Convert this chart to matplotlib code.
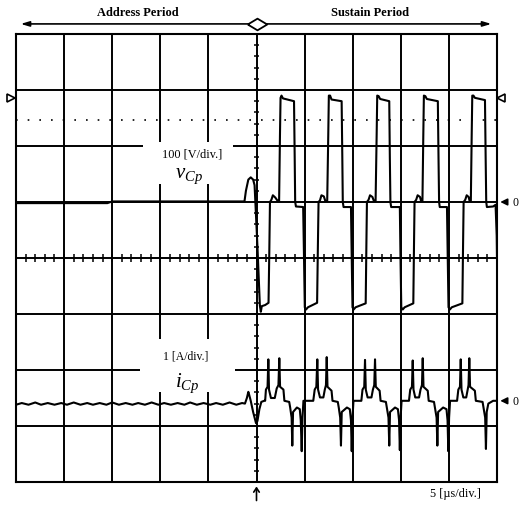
import numpy as np
import matplotlib
matplotlib.use("Agg")
import matplotlib.pyplot as plt
from matplotlib.patches import Rectangle

plt.rcParams['font.family'] = ['Liberation Serif', 'DejaVu Serif']
plt.rcParams['mathtext.fontset'] = 'custom'
plt.rcParams['mathtext.it'] = 'Liberation Serif:italic'
plt.rcParams['mathtext.rm'] = 'Liberation Serif'

# ---------------- data (time in us) ----------------
vcp_t = [-25.0, -15.5, -15.0, -1.25,
         -1.1, -0.85, -0.6, -0.35, -0.2,
         0.1, 0.35, 0.45, 0.55, 0.9, 1.25,
         1.33, 1.4, 1.55, 1.7, 1.95, 2.2, 2.35,
         2.44, 2.5, 2.6, 2.75, 3.9,
         3.97, 4.02, 4.1, 4.85,
         4.94, 5.02, 5.15, 5.35, 6.3,
         6.38, 6.45, 6.6, 6.75, 7.0, 7.15, 7.35,
         7.46, 7.52, 7.65, 7.8, 8.85,
         8.92, 8.97, 9.05, 9.82,
         9.9, 9.98, 10.1, 10.3, 11.35,
         11.42, 11.48, 11.65, 11.8, 12.05, 12.2, 12.38,
         12.49, 12.55, 12.7, 12.85, 13.8,
         13.86, 13.92, 14.0, 14.9,
         14.97, 15.05, 15.2, 15.4, 16.3,
         16.37, 16.43, 16.6, 16.75, 17.0, 17.1, 17.25,
         17.34, 17.4, 17.55, 17.7, 18.85,
         18.92, 18.98, 19.05, 19.8,
         19.88, 19.96, 20.1, 20.3, 21.4,
         21.47, 21.53, 21.7, 21.85, 22.05, 22.15, 22.28,
         22.37, 22.43, 22.55, 22.7, 23.75,
         23.82, 23.88, 23.95, 24.6, 24.85,
         24.97, 25.0]
vcp_v = [-2, -2, 1, 1,
         20, 40, 44, 40, 30,
         -80, -185, -196, -186, -184, -180,
         -90, 0, 4, 12, 8, 2, 2,
         120, 186, 190, 185, 180,
         80, 0, -8, -9,
         -100, -188, -192, -188, -180,
         -80, 0, 3, 12, 10, 2, 2,
         120, 190, 190, 183, 180,
         80, 0, -9, -9,
         -100, -188, -192, -188, -181,
         -80, 0, 4, 12, 9, 2, 2,
         120, 190, 189, 184, 180,
         80, 0, -9, -9,
         -100, -188, -192, -188, -181,
         -80, 0, 4, 12, 9, 2, 2,
         120, 190, 189, 184, 180,
         80, 0, -9, -9,
         -100, -188, -192, -188, -181,
         -80, 0, 4, 12, 9, 2, 2,
         120, 190, 190, 186, 182,
         80, 0, -9, -8, -5,
         -60, -100]

icp_t = [-25.0, -24.4, -23.7, -23.0, -22.4, -21.7, -21.0, -20.3, -19.7, -19.0,
         -18.3, -17.6, -17.0, -16.3, -15.6, -15.0, -14.3, -13.6, -12.9, -12.3,
         -11.6, -10.9, -10.2, -9.6, -8.9, -8.2, -7.5, -6.9, -6.2, -5.5,
         -4.8, -4.2, -3.5, -2.8, -2.1, -1.5,
         -1.2, -1.0, -0.85, -0.75, -0.6, -0.35, -0.05, 0.1, 0.3, 0.5, 0.8,
         0.9, 0.98, 1.15, 1.23, 1.3, 1.5, 1.9, 2.1, 2.28, 2.37, 2.45, 2.8, 2.9, 3.4,
         3.5, 3.65, 3.72, 3.8, 4.2, 4.5, 4.6, 4.7, 4.78, 4.88,
         5.9, 6.05, 6.22, 6.32, 6.4, 6.6, 6.95, 7.1, 7.22, 7.3, 7.38, 7.8, 7.9,
         8.45, 8.55, 8.7, 8.78, 8.86, 9.4, 9.7, 9.82, 9.9, 9.98, 10.08,
         10.9, 11.02, 11.2, 11.28, 11.36, 11.55, 11.95, 12.1, 12.24, 12.32, 12.4, 12.8, 12.9,
         13.45, 13.55, 13.72, 13.8, 13.88, 14.4, 14.7, 14.82, 14.9, 14.98, 15.08,
         15.85, 15.98, 16.16, 16.24, 16.32, 16.5, 16.9, 17.05, 17.2, 17.28, 17.36, 17.8, 17.9,
         18.45, 18.55, 18.72, 18.8, 18.88, 19.4, 19.75, 19.86, 19.94, 20.02, 20.12,
         20.85, 20.98, 21.15, 21.23, 21.31, 21.5, 21.8, 21.95, 22.04, 22.12, 22.2, 22.7, 22.8,
         23.5, 23.6, 23.77, 23.85, 23.93, 24.1, 24.6, 25.0]
icp_a = [-0.07, -0.04, -0.07, -0.03, -0.07, -0.04, -0.07, -0.04, -0.07, -0.03,
         -0.07, -0.04, -0.07, -0.04, -0.07, -0.03, -0.07, -0.04, -0.07, -0.04,
         -0.07, -0.03, -0.07, -0.04, -0.07, -0.04, -0.07, -0.03, -0.07, -0.04,
         -0.07, -0.04, -0.07, -0.03, -0.07, -0.04,
         -0.05, 0.05, 0.16, 0.1, 0.0, -0.2, -0.4, -0.36, -0.15, -0.02, 0.0,
         0.0, 0.2, 0.25, 0.74, 0.2, 0.05, 0.05, 0.22, 0.28, 0.76, 0.25, 0.2, 0.0, -0.02,
         -0.12, -0.3, -0.8, -0.2, -0.12, -0.15, -0.35, -0.9, -0.3, 0.0,
         0.0, 0.2, 0.25, 0.74, 0.2, 0.06, 0.06, 0.2, 0.28, 0.78, 0.25, 0.18, 0.0,
         -0.02, -0.12, -0.3, -0.8, -0.2, -0.12, -0.15, -0.35, -0.9, -0.3, 0.0,
         0.0, 0.2, 0.25, 0.73, 0.2, 0.06, 0.06, 0.2, 0.28, 0.74, 0.25, 0.18, 0.0,
         -0.02, -0.12, -0.3, -0.8, -0.2, -0.12, -0.15, -0.35, -0.88, -0.3, 0.0,
         0.0, 0.2, 0.25, 0.72, 0.2, 0.06, 0.06, 0.2, 0.28, 0.76, 0.25, 0.18, 0.0,
         -0.02, -0.12, -0.3, -0.8, -0.2, -0.12, -0.15, -0.35, -0.9, -0.3, 0.0,
         0.0, 0.2, 0.25, 0.74, 0.2, 0.06, 0.06, 0.2, 0.28, 0.76, 0.25, 0.18, 0.0,
         -0.02, -0.12, -0.3, -0.86, -0.2, -0.05, 0.0, 0.0]

# scope settings
volts_per_div = 100.0
amps_per_div = 1.0
vcp_offset_div = 1.0      # vcp zero level (divisions from centre)
icp_offset_div = -2.55    # icp zero level
cursor_div = 2.86         # cursor markers on both sides
dotted_div = 2.46         # dotted cursor line

# ---------------- figure ----------------
fig = plt.figure(figsize=(5.22, 5.06), dpi=100)
ax = fig.add_axes([16 / 522, 23 / 506, 481 / 522, 448 / 506])
ax.set_xlim(-25, 25)
ax.set_ylim(-4, 4)
ax.set_xticks(np.arange(-25, 26, 5))
ax.set_yticks(np.arange(-4, 5, 1))
ax.tick_params(length=0, labelbottom=False, labelleft=False)
ax.set_axisbelow(True)
ax.grid(True, color='black', linewidth=1.4)
for s in ax.spines.values():
    s.set_linewidth(1.5)
    s.set_color('black')

# centre graticule ticks
yt = np.arange(-4, 4.01, 0.2)
ax.hlines(yt, -0.3, 0.3, color='black', linewidth=1.1, zorder=1.5)
xt = np.arange(-25, 25.01, 1.0)
ax.vlines(xt, -0.07, 0.07, color='black', linewidth=1.1, zorder=1.5)

# white label boxes hiding grid
ax.add_patch(Rectangle((-11.8, 1.32), 9.36, 0.76, facecolor='white',
                       edgecolor='none', zorder=1.8))
ax.add_patch(Rectangle((-12.1, -2.39), 9.87, 0.94, facecolor='white',
                       edgecolor='none', zorder=1.8))

# dotted cursor line
ax.plot([-25, 25], [dotted_div, dotted_div], color='black', linewidth=1.2,
        linestyle=(0, (1, 6)), zorder=2)

# traces
vcp_div = np.array(vcp_v) / volts_per_div + vcp_offset_div
icp_div = np.array(icp_a) / amps_per_div + icp_offset_div
ax.plot(vcp_t, vcp_div, color='black', linewidth=1.5, zorder=3)
ax.plot(icp_t, icp_div, color='black', linewidth=1.5, zorder=3)

# labels
ax.text(-6.7, 1.86, '100 [V/div.]', fontsize=8.8, ha='center', va='center', zorder=4)
ax.text(-8.5, 1.45, r'$v_{Cp}$', fontsize=15, ha='left', va='baseline', zorder=4)
ax.text(-7.4, -1.75, '1 [A/div.]', fontsize=8.5, ha='center', va='center', zorder=4)
ax.text(-8.5, -2.29, r'$i_{Cp}$', fontsize=15, ha='left', va='baseline', zorder=4)
ax.text(20.7, -4.2, '5 [\u00b5s/div.]', fontsize=8.8, ha='center', va='center',
        clip_on=False)

# top period annotations
ax.text(-12.3, 4.39, 'Address Period', fontsize=8.9, fontweight='bold',
        ha='center', va='center', clip_on=False)
ax.text(11.8, 4.4, 'Sustain Period', fontsize=9.0, fontweight='bold',
        ha='center', va='center', clip_on=False)
ax.annotate('', xy=(-24.8, 4.18), xytext=(24.7, 4.18),
            arrowprops=dict(arrowstyle='<|-|>,head_length=0.5,head_width=0.15',
                            color='black', lw=1.2), annotation_clip=False)
diamond = [(-1, 0), (0, 0.6), (1, 0), (0, -0.6), (-1, 0)]
ax.plot([0], [4.18], marker=diamond, markersize=14, markerfacecolor='white',
        markeredgecolor='black', markeredgewidth=1.3, clip_on=False, zorder=5)

# trigger arrow at bottom
ax.annotate('', xy=(0, -4.03), xytext=(0, -4.38),
            arrowprops=dict(arrowstyle='->,head_length=0.3,head_width=0.2',
                            color='black', lw=1.2), annotation_clip=False)

# zero level markers on right
for lvl in (vcp_offset_div, icp_offset_div):
    ax.annotate('', xy=(25.05, lvl), xytext=(26.1, lvl),
                arrowprops=dict(arrowstyle='-|>,head_length=0.4,head_width=0.2',
                                color='black', lw=1.2), annotation_clip=False)
    ax.text(26.9, lvl, '0', fontsize=8.5, ha='center', va='center', clip_on=False)

# cursor markers
ax.plot([25.45], [cursor_div], marker='<', markersize=6, markerfacecolor='white',
        markeredgecolor='black', markeredgewidth=1.2, clip_on=False)
ax.plot([-25.5], [cursor_div], marker='>', markersize=6, markerfacecolor='white',
        markeredgecolor='black', markeredgewidth=1.2, clip_on=False)

fig.savefig('out.png', dpi=100, facecolor='white')
